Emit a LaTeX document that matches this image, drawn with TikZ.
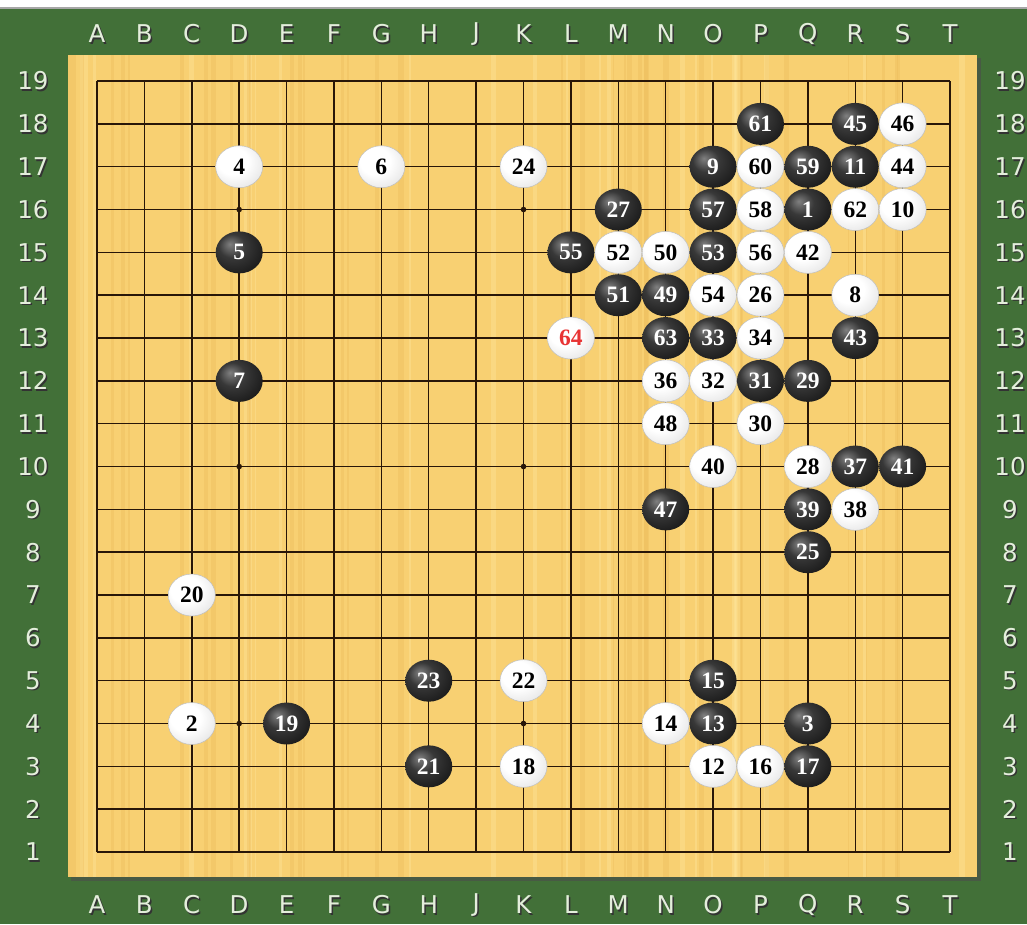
\documentclass[tikz,border=0pt]{standalone}
\usepackage{fontspec}
\usetikzlibrary{shapes.geometric}
\newfontfamily\stonefont{Liberation Serif}
\newfontfamily\labelfont{DejaVu Sans}
\definecolor{felt}{RGB}{66,112,56}
\definecolor{wood}{RGB}{248,208,114}
\definecolor{grainlight}{RGB}{255,232,160}
\definecolor{graindark}{RGB}{236,186,90}
\definecolor{gridc}{RGB}{40,22,8}
\definecolor{labelc}{RGB}{228,238,220}
\definecolor{redno}{RGB}{232,52,52}
\pgfdeclareradialshading{wstone}{\pgfpoint{-9bp}{9bp}}{color(0bp)=(white); color(16bp)=(white); color(30bp)=(black!8); color(42bp)=(black!22); color(52bp)=(black!38); color(62bp)=(black!48)}
\pgfdeclareradialshading{bstone}{\pgfpoint{-10bp}{10bp}}{color(0bp)=(black!50); color(14bp)=(black!78); color(30bp)=(black!88); color(50bp)=(black!94); color(62bp)=(black)}
\tikzset{
  stonebase/.style={ellipse, minimum width=47pt, minimum height=42pt, inner sep=0pt,
    font=\stonefont\bfseries\fontsize{23.5}{23.5}\selectfont},
  bst/.style={stonebase, shade, shading=bstone, text=white},
  wst/.style={stonebase, shade, shading=wstone, draw=black!25, line width=0.5pt, text=black},
  rst/.style={wst, text=redno},
  coordlab/.style={font=\labelfont\fontsize{24.5}{24.5}\selectfont, text=labelc, inner sep=0pt},
  coordsh/.style={font=\labelfont\fontsize{24.5}{24.5}\selectfont, text=black!80, inner sep=0pt},
  gridline/.style={draw=gridc, line width=1.5pt},
  grain/.style={line width=#1, opacity=0.35}
}
\begin{document}
\begin{tikzpicture}[x=1pt,y=1pt]
\useasboundingbox (0,0) rectangle (1027,-924);
\fill[felt] (0,0) rectangle (1027,-924);
\fill[white] (0,0) rectangle (1027,-7);
\fill[black!35] (0,-7) rectangle (1027,-9);
% board
\fill[black!70,opacity=0.6] (71,-58) rectangle (981,-881);
\fill[wood] (68,-55) rectangle (977,-877);
\pgfmathsetseed{11}
\begin{scope}
  \clip (68,-55) rectangle (977,-877);
  \foreach \k in {1,...,60} {
    \pgfmathsetmacro{\gx}{68+909*rnd}
    \pgfmathsetmacro{\gw}{1+5*rnd}
    \pgfmathsetmacro{\gc}{rnd}
    \ifdim\gc pt>0.5pt
      \draw[grain=\gw pt, grainlight] (\gx,-55) -- (\gx,-877);
    \else
      \draw[grain=\gw pt, graindark] (\gx,-55) -- (\gx,-877);
    \fi
  }
\end{scope}
% coordinate labels
\foreach \l [count=\c from 0] in {A,B,C,D,E,F,G,H,J,K,L,M,N,O,P,Q,R,S,T} {
  \node[coordsh] (tsh\c) at ({97+\c*47.39+1.5},-35.5) {\l};
  \node[coordlab] (top\c) at ({97+\c*47.39},-34) {\l};
  \node[coordsh] (bsh\c) at ({97+\c*47.39+1.5},-906.5) {\l};
  \node[coordlab] (bot\c) at ({97+\c*47.39},-905) {\l};
}
\foreach \n in {1,...,19} {
  \node[coordsh] (lsh\n) at (34.5,{-852+(\n-1)*42.83-1.5}) {\n};
  \node[coordlab] (left\n) at (33,{-852+(\n-1)*42.83}) {\n};
  \node[coordsh] (rsh\n) at (1011.5,{-852+(\n-1)*42.83-1.5}) {\n};
  \node[coordlab] (right\n) at (1010,{-852+(\n-1)*42.83}) {\n};
}
\begin{scope}[shift={(97,-852)}, x=47.39pt, y=42.83pt]
  \foreach \i in {0,...,18} {
    \draw[gridline] (\i,0) -- (\i,18);
    \draw[gridline] (0,\i) -- (18,\i);
  }
  \foreach \i in {3,9,15} \foreach \j in {3,9,15}
    \fill[gridc] (\i,\j) circle[radius=2.8pt];
  % black stones
  \node[bst] (m1) at (15,15) {1};
  \node[bst] (m3) at (15,3) {3};
  \node[bst] (m5) at (3,14) {5};
  \node[bst] (m7) at (3,11) {7};
  \node[bst] (m9) at (13,16) {9};
  \node[bst] (m11) at (16,16) {11};
  \node[bst] (m13) at (13,3) {13};
  \node[bst] (m15) at (13,4) {15};
  \node[bst] (m17) at (15,2) {17};
  \node[bst] (m19) at (4,3) {19};
  \node[bst] (m21) at (7,2) {21};
  \node[bst] (m23) at (7,4) {23};
  \node[bst] (m25) at (15,7) {25};
  \node[bst] (m27) at (11,15) {27};
  \node[bst] (m29) at (15,11) {29};
  \node[bst] (m31) at (14,11) {31};
  \node[bst] (m33) at (13,12) {33};
  \node[bst] (m37) at (16,9) {37};
  \node[bst] (m39) at (15,8) {39};
  \node[bst] (m41) at (17,9) {41};
  \node[bst] (m43) at (16,12) {43};
  \node[bst] (m45) at (16,17) {45};
  \node[bst] (m47) at (12,8) {47};
  \node[bst] (m49) at (12,13) {49};
  \node[bst] (m51) at (11,13) {51};
  \node[bst] (m53) at (13,14) {53};
  \node[bst] (m55) at (10,14) {55};
  \node[bst] (m57) at (13,15) {57};
  \node[bst] (m59) at (15,16) {59};
  \node[bst] (m61) at (14,17) {61};
  \node[bst] (m63) at (12,12) {63};
  % white stones
  \node[wst] (m2) at (2,3) {2};
  \node[wst] (m4) at (3,16) {4};
  \node[wst] (m6) at (6,16) {6};
  \node[wst] (m8) at (16,13) {8};
  \node[wst] (m10) at (17,15) {10};
  \node[wst] (m12) at (13,2) {12};
  \node[wst] (m14) at (12,3) {14};
  \node[wst] (m16) at (14,2) {16};
  \node[wst] (m18) at (9,2) {18};
  \node[wst] (m20) at (2,6) {20};
  \node[wst] (m22) at (9,4) {22};
  \node[wst] (m24) at (9,16) {24};
  \node[wst] (m26) at (14,13) {26};
  \node[wst] (m28) at (15,9) {28};
  \node[wst] (m30) at (14,10) {30};
  \node[wst] (m32) at (13,11) {32};
  \node[wst] (m34) at (14,12) {34};
  \node[wst] (m36) at (12,11) {36};
  \node[wst] (m38) at (16,8) {38};
  \node[wst] (m40) at (13,9) {40};
  \node[wst] (m42) at (15,14) {42};
  \node[wst] (m44) at (17,16) {44};
  \node[wst] (m46) at (17,17) {46};
  \node[wst] (m48) at (12,10) {48};
  \node[wst] (m50) at (12,14) {50};
  \node[wst] (m52) at (11,14) {52};
  \node[wst] (m54) at (13,13) {54};
  \node[wst] (m56) at (14,14) {56};
  \node[wst] (m58) at (14,15) {58};
  \node[wst] (m60) at (14,16) {60};
  \node[wst] (m62) at (16,15) {62};
  \node[rst] (m64) at (10,12) {64};
\end{scope}
\end{tikzpicture}
\end{document}
